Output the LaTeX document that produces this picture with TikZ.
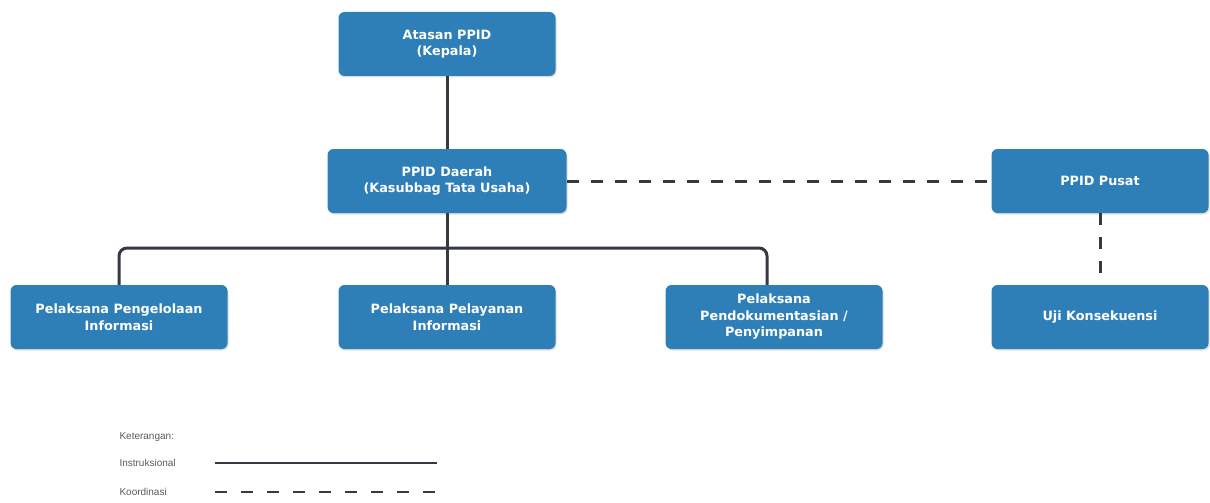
\documentclass[tikz,border=0pt]{standalone}
\usepackage{fontspec}
\setmainfont{Liberation Sans}
\newfontfamily\boxfont{DejaVu Sans}
\usetikzlibrary{shadows}
\definecolor{boxblue}{RGB}{46,126,184}
\definecolor{linegrey}{RGB}{52,57,66}
\definecolor{legtext}{RGB}{90,90,90}
\tikzset{
  orgbox/.style={draw=none, fill=boxblue, rounded corners=6pt, minimum width=217pt, minimum height=64pt,
    text=white, font=\boxfont\fontsize{12.8}{16.5}\selectfont\bfseries, align=center,
    drop shadow={opacity=0.25, shadow xshift=1pt, shadow yshift=-1.5pt}},
  instr/.style={draw=linegrey, line width=3pt},
  koord/.style={draw=linegrey, line width=3pt, dash pattern=on 12pt off 12pt},
  legend/.style={text=legtext, font=\fontsize{10}{12}\selectfont, anchor=west}
}
\begin{document}
\begin{tikzpicture}[x=1pt,y=-1pt]
\useasboundingbox (0,0) rectangle (1210,503);
\node[orgbox] (atasan) at (447,44) {Atasan PPID\\(Kepala)};
\node[orgbox, minimum width=239pt] (daerah) at (447,181) {PPID Daerah\\(Kasubbag Tata Usaha)};
\node[orgbox] (pusat) at (1100,181) {PPID Pusat};
\node[orgbox] (kelola) at (119,317) {Pelaksana Pengelolaan\\Informasi};
\node[orgbox] (layan) at (447,317) {Pelaksana Pelayanan\\Informasi};
\node[orgbox] (dok) at (774,317) {Pelaksana\\Pendokumentasian /\\Penyimpanan};
\node[orgbox] (uji) at (1100,317) {Uji Konsekuensi};

\coordinate (bus) at (447,248);
\draw[instr] (atasan.south) -- (daerah.north);
\draw[instr] (daerah.south) -- (layan.north);
\draw[instr, rounded corners=8pt] (kelola.north) |- (bus) -| ([xshift=-7pt]dok.north);
\draw[koord] (daerah.east) -- (pusat.west);
\draw[koord] (pusat.south) -- (uji.north);

\node[legend] (ket) at (116,437) {Keterangan:};
\node[legend] (ins) at (116,463) {Instruksional};
\node[legend] (koo) at (116,492) {Koordinasi};
\coordinate (i1) at (215,463);
\coordinate (i2) at (437,463);
\coordinate (k1) at (215,492);
\coordinate (k2) at (437,492);
\draw[instr, line width=2.5pt] (i1) -- (i2);
\draw[koord, line width=2.5pt, dash pattern=on 12pt off 14pt] (k1) -- (k2);
\end{tikzpicture}
\end{document}
